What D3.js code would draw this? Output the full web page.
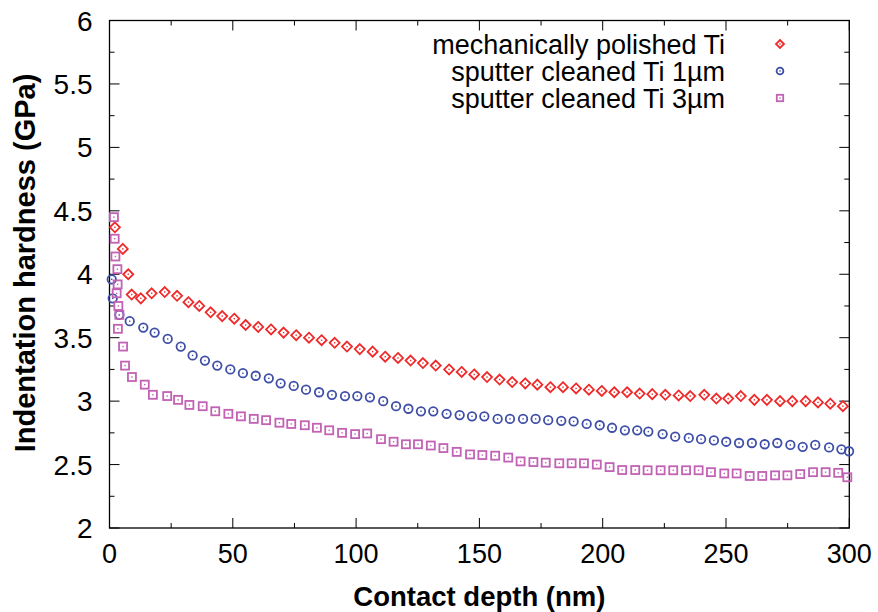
<!DOCTYPE html>
<html><head><meta charset="utf-8">
<script src="https://cdn.jsdelivr.net/npm/d3@7"></script>
<style>body{margin:0;background:#fff;} text{font-family:"Liberation Sans",Arial,sans-serif;}</style>
</head><body><svg id="c" width="878" height="612"></svg>
<script>
const seriesNames = ["mechanically polished Ti","sputter cleaned Ti 1\u00b5m","sputter cleaned Ti 3\u00b5m"];
const seriesColors = ["#ee2a2a","#3f4fa8","#c262b4"];
const xTicks = [0,50,100,150,200,250,300];
const yTicks = [2,2.5,3,3.5,4,4.5,5,5.5,6];

const mechX = [2.2,5.4,7.6,9.0,12.7,17.1,22.4,27.4,32.0,36.4,41.0,45.7,50.6,55.2,60.3,65.5,70.6,75.7,80.9,86.0,91.3,96.3,101.5,106.7,111.8,117.0,122.1,127.1,132.3,137.7,142.8,147.9,153.1,158.2,163.3,168.6,173.5,178.8,183.9,189.2,194.4,199.6,204.7,209.9,215.0,220.1,225.4,230.8,235.5,241.2,246.1,250.9,256.0,261.5,266.6,271.9,276.9,282.3,287.3,292.3,297.4];
const mechY = [4.37,4.20,4.00,3.84,3.81,3.85,3.86,3.83,3.78,3.75,3.70,3.67,3.65,3.60,3.585,3.565,3.54,3.52,3.50,3.48,3.46,3.43,3.41,3.39,3.35,3.34,3.32,3.30,3.28,3.25,3.23,3.21,3.19,3.17,3.15,3.14,3.13,3.11,3.11,3.10,3.09,3.08,3.07,3.07,3.06,3.055,3.05,3.045,3.04,3.05,3.02,3.02,3.04,3.01,3.01,3.00,3.00,3.00,2.99,2.98,2.96];

const sp1X = [0.9,1.3,4.0,8.2,13.7,18.3,23.6,28.9,33.7,38.7,43.7,49.0,54.1,59.3,64.6,69.4,74.7,79.7,85.0,90.2,95.5,100.5,105.6,111.0,116.2,121.2,126.3,131.3,136.7,142.0,147.0,152.0,157.4,162.4,167.7,172.8,177.9,183.2,188.2,193.5,198.8,203.8,209.0,214.0,218.5,224.3,229.4,234.9,239.9,245.1,250.1,255.3,260.5,265.7,270.8,276.1,281.1,286.2,291.8,296.8,299.9];
const sp1Y = [3.96,3.81,3.68,3.63,3.58,3.54,3.49,3.43,3.36,3.32,3.28,3.25,3.22,3.20,3.18,3.14,3.12,3.09,3.07,3.05,3.04,3.04,3.03,3.00,2.96,2.94,2.92,2.92,2.90,2.89,2.88,2.88,2.86,2.86,2.86,2.86,2.85,2.845,2.84,2.82,2.81,2.79,2.77,2.77,2.76,2.74,2.72,2.71,2.70,2.69,2.68,2.67,2.67,2.66,2.67,2.655,2.64,2.655,2.635,2.62,2.605];

const sp3X = [1.8,2.1,2.4,3.2,3.3,2.9,3.6,4.0,3.4,5.5,6.3,9.1,14.3,17.6,23.4,27.8,32.4,37.8,42.9,48.2,53.3,58.5,63.5,68.9,73.7,79.2,84.1,89.1,94.3,99.6,104.5,110.1,115.2,120.2,125.1,130.3,135.4,140.8,146.2,151.2,156.4,161.7,166.7,171.9,176.9,182.4,187.4,192.4,197.6,202.8,207.9,213.2,218.2,223.5,228.6,233.8,238.9,243.9,249.3,254.3,259.6,264.7,269.9,274.9,280.1,285.3,290.4,295.5,299.2];
const sp3Y = [4.45,4.28,4.14,4.04,3.92,3.85,3.75,3.68,3.57,3.43,3.28,3.19,3.13,3.05,3.04,3.01,2.97,2.96,2.92,2.90,2.88,2.86,2.85,2.83,2.82,2.81,2.79,2.77,2.75,2.74,2.745,2.70,2.68,2.66,2.66,2.65,2.63,2.60,2.58,2.575,2.57,2.555,2.525,2.52,2.515,2.51,2.51,2.51,2.50,2.48,2.457,2.457,2.455,2.455,2.455,2.455,2.455,2.44,2.43,2.43,2.41,2.41,2.415,2.415,2.425,2.44,2.44,2.435,2.40];

const svg = d3.select("#c");
const L = 109.5, R = 849.3, T = 20.5, B = 528;
const x = d3.scaleLinear().domain([0,300]).range([L,R]);
const y = d3.scaleLinear().domain([2,6]).range([B,T]);

// frame
svg.append("rect").attr("x",L).attr("y",T).attr("width",R-L).attr("height",B-T)
  .attr("fill","none").attr("stroke","#000").attr("stroke-width",1.3);

const xMinor = d3.range(25,300,50);
const yMinor = d3.range(2.25,6,0.5);
const tk = svg.append("g").attr("stroke","#000").attr("stroke-width",1);
xTicks.concat(xMinor).forEach(v=>{
  const len = xTicks.includes(v)?10:5;
  tk.append("line").attr("x1",x(v)).attr("x2",x(v)).attr("y1",B).attr("y2",B-len);
  tk.append("line").attr("x1",x(v)).attr("x2",x(v)).attr("y1",T).attr("y2",T+len);
});
yTicks.concat(yMinor).forEach(v=>{
  const len = yTicks.includes(v)?10:5;
  tk.append("line").attr("y1",y(v)).attr("y2",y(v)).attr("x1",L).attr("x2",L+len);
  tk.append("line").attr("y1",y(v)).attr("y2",y(v)).attr("x1",R).attr("x2",R-len);
});

// tick labels
svg.append("g").selectAll("text").data(xTicks).join("text")
  .attr("x",d=>x(d)).attr("y",B+35).attr("text-anchor","middle")
  .attr("font-size",27).text(d=>d);
svg.append("g").selectAll("text").data(yTicks).join("text")
  .attr("x",L-17).attr("y",d=>y(d)).attr("dy","0.36em").attr("text-anchor","end")
  .attr("font-size",28).text(d=>d);

// axis titles
svg.append("text").attr("x",(L+R)/2).attr("y",606).attr("text-anchor","middle")
  .attr("font-size",27.5).attr("font-weight","bold").text("Contact depth (nm)");
svg.append("text").attr("transform",`translate(35,263) rotate(-90)`)
  .attr("text-anchor","middle").attr("font-size",29).attr("font-weight","bold")
  .text("Indentation hardness (GPa)");

function marker(g, type, cx, cy, s, color){
  if(type===0){
    g.append("path").attr("d",`M${cx},${cy-s}L${cx+s},${cy}L${cx},${cy+s}L${cx-s},${cy}Z`)
      .attr("fill","none").attr("stroke",color).attr("stroke-width",1.8);
  } else if(type===1){
    g.append("circle").attr("cx",cx).attr("cy",cy).attr("r",s*0.85)
      .attr("fill","none").attr("stroke",color).attr("stroke-width",1.8);
  } else {
    g.append("rect").attr("x",cx-s*0.8).attr("y",cy-s*0.8).attr("width",s*1.6).attr("height",s*1.6)
      .attr("fill","none").attr("stroke",color).attr("stroke-width",1.8);
  }
  g.append("rect").attr("x",cx-0.7).attr("y",cy-0.7).attr("width",1.4).attr("height",1.4).attr("fill",color);
}

const data = [[mechX,mechY],[sp1X,sp1Y],[sp3X,sp3Y]];
const pts = svg.append("g");
data.forEach((d,i)=>{
  d[0].forEach((xv,j)=>marker(pts,i,x(xv),y(d[1][j]),5,seriesColors[i]));
});

// legend
const lg = svg.append("g");
seriesNames.forEach((n,i)=>{
  const ly = 44 + i*27;
  lg.append("text").attr("x",725).attr("y",ly).attr("dy","0.36em").attr("text-anchor","end")
    .attr("font-size",27).text(n);
  marker(lg,i,780,ly,4,seriesColors[i]);
});
</script></body></html>
